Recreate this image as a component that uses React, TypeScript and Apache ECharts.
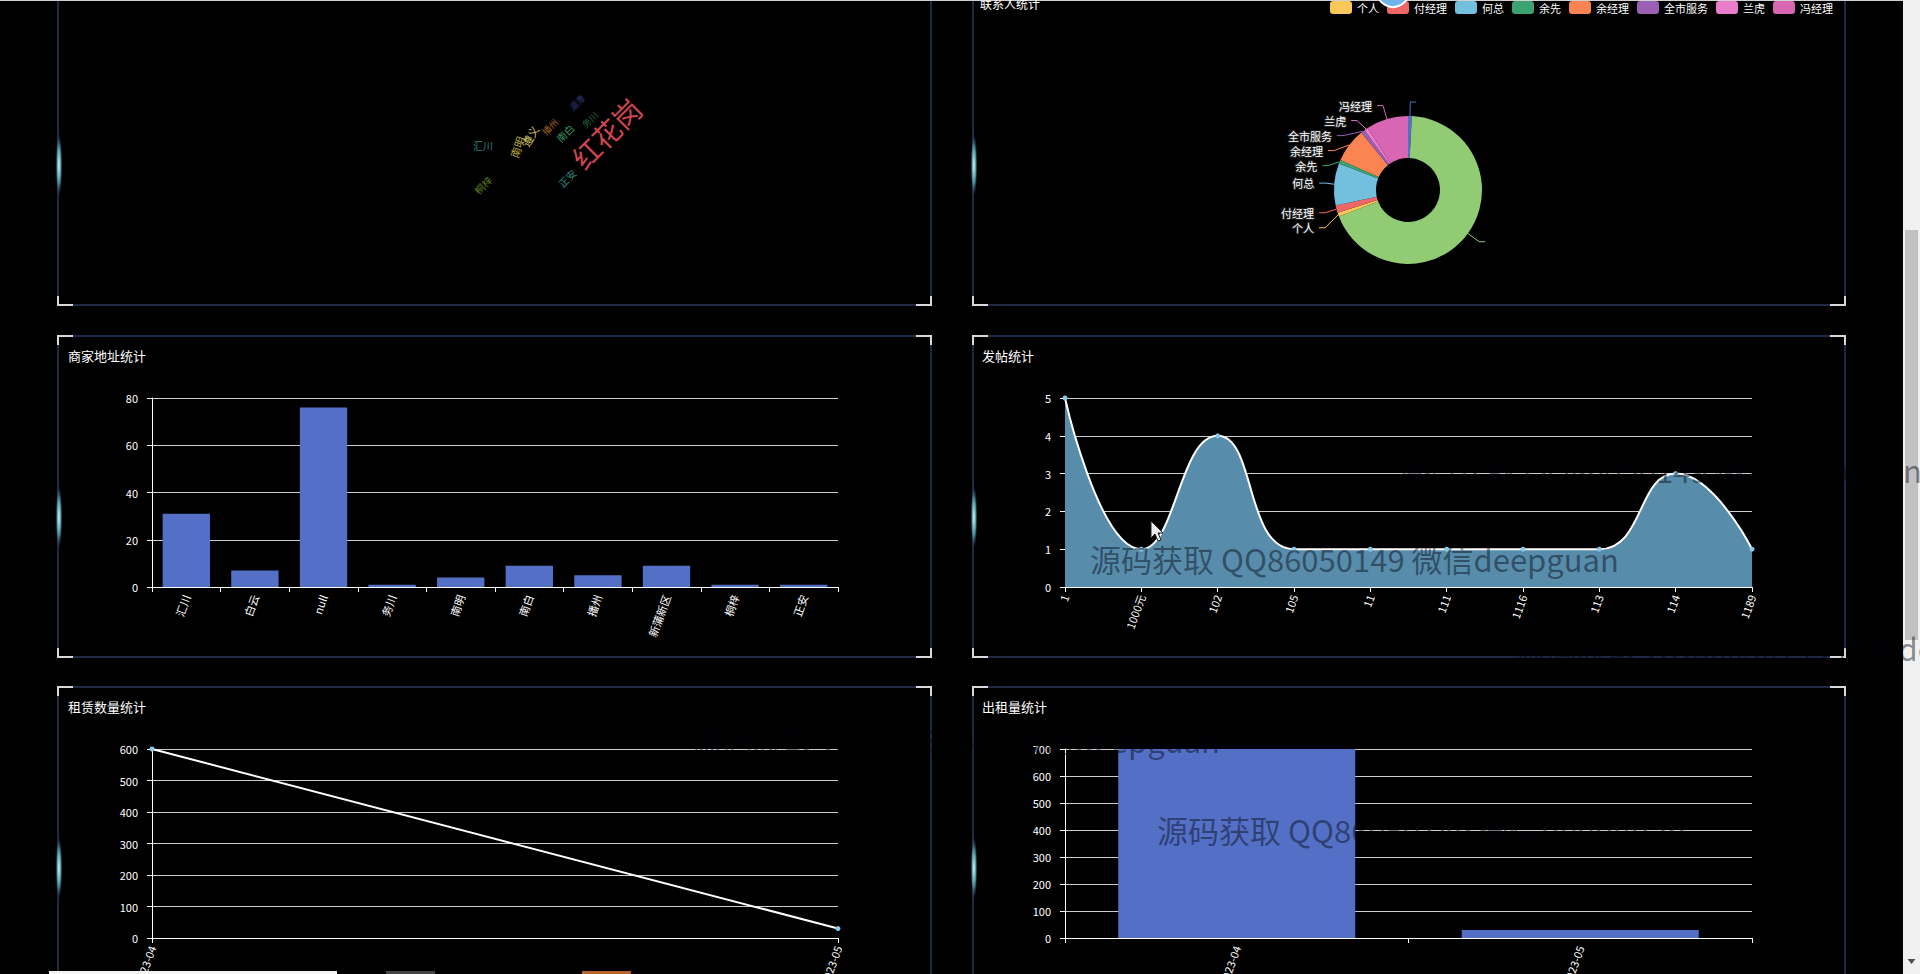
import React, { useEffect, useRef } from 'react';
import * as echarts from 'echarts';

// ---------- data ----------
const addrCategories = ['汇川', '白云', 'null', '务川', '南明', '南白', '播州', '新蒲新区', '桐梓', '正安'];
const addrValues = [31, 7, 76, 1, 4, 9, 5, 9, 1, 1];

const postCategories = ['1', '1000元', '102', '105', '11', '111', '1116', '113', '114', '1189'];
const postValues = [5, 1, 4, 1, 1, 1, 1, 1, 3, 1];

const monthCategories = ['2023-04', '2023-05'];
const rentCountValues = [600, 30];
const rentOutValues = [700, 30];

const contactNames = ['未填写', '其他', '个人', '付经理', '何总', '余先', '余经理', '全市服务', '兰虎', '冯经理'];
const contactValues = [1, 82, 1, 2, 11, 1, 9, 1, 1, 11];
const contactColors = ['#5470c6', '#91cc75', '#fac858', '#ee6666', '#73c0de', '#3ba272', '#fc8452', '#9a60b4', '#ea7ccc', '#d966b3'];
const legendNames = ['个人', '付经理', '何总', '余先', '余经理', '全市服务', '兰虎', '冯经理'];

const cloudWords = ['红花岗', '汇川', '南明', '遵义', '播州', '南白', '湄潭', '桐梓', '正安', '务川'];
const cloudSizes = [28, 10, 11, 11, 9, 10, 9, 10, 10, 9];
const cloudColors = ['#cf4650', '#2a8a78', '#b8a83a', '#d8c870', '#a0602a', '#3a9a68', '#33336e', '#5a7a20', '#2a8a80', '#2a6a48'];

const WATERMARK = '源码获取 QQ86050149 微信deepguan';

// layout of word cloud (positions only)
const cloudLayout = [
  [606, 133, 45], [483, 145, 0], [517, 147, 70], [530, 136, 60], [550, 127, 45],
  [565, 133, 45], [577, 103, 45], [483, 185, 45], [567, 178, 45], [590, 120, 45],
];

function panel(x: number, y: number, w: number, h: number) {
  const c = '#d8d8d8';
  const cl = 15, cv = 9;
  const els: any[] = [
    { type: 'rect', shape: { x, y, width: w, height: h }, style: { fill: 'transparent', stroke: '#1e2946', lineWidth: 2 }, z: 0 },
    { type: 'polyline', shape: { points: [[x, y + cv], [x, y], [x + cl, y]] }, style: { stroke: c, lineWidth: 2, fill: null }, z: 1 },
    { type: 'polyline', shape: { points: [[x + w - cl, y], [x + w, y], [x + w, y + cv]] }, style: { stroke: c, lineWidth: 2, fill: null }, z: 1 },
    { type: 'polyline', shape: { points: [[x, y + h - cv], [x, y + h], [x + cl, y + h]] }, style: { stroke: c, lineWidth: 2, fill: null }, z: 1 },
    { type: 'polyline', shape: { points: [[x + w - cl, y + h], [x + w, y + h], [x + w, y + h - cv]] }, style: { stroke: c, lineWidth: 2, fill: null }, z: 1 },
    {
      type: 'ellipse', shape: { cx: x + 1, cy: y + 181, rx: 3.5, ry: 32 }, z: 1,
      style: {
        fill: new echarts.graphic.RadialGradient(0.5, 0.5, 0.5, [
          { offset: 0, color: 'rgba(210,255,255,1)' },
          { offset: 0.55, color: 'rgba(110,200,215,0.7)' },
          { offset: 1, color: 'rgba(40,80,110,0)' },
        ]),
      },
    },
  ];
  return els;
}

const axisCommon = {
  axisLine: { show: true, lineStyle: { color: '#fff' } },
  axisTick: { show: true, lineStyle: { color: '#fff' } },
  axisLabel: { color: '#fff', fontSize: 11 },
};

export default function App() {
  const ref = useRef<HTMLDivElement>(null);
  useEffect(() => {
    const chart = echarts.init(ref.current!, null, { renderer: 'svg' });
    const font = '"Noto Sans CJK SC", "Microsoft YaHei", sans-serif';

    const graphics: any[] = [];
    const L = 58, R = 973, LW = 873, RW = 872, H = 321;
    [-16, 336, 687].forEach((y) => {
      graphics.push(...panel(L, y, LW, H));
      graphics.push(...panel(R, y, RW, H));
    });
    graphics.push({ type: 'line', shape: { x1: 0, y1: 0.5, x2: 1903, y2: 0.5 }, style: { stroke: '#d0d0d0', lineWidth: 1 }, z: 5 });
    graphics.push({ type: 'text', x: 980, y: 3, style: { text: '联系人统计', fill: '#fff', font: `12px ${font}`, textVerticalAlign: 'middle' }, z: 5 });

    cloudWords.forEach((w, i) => {
      const [cx, cy, rot] = cloudLayout[i];
      graphics.push({
        type: 'text', x: cx, y: cy, rotation: (rot * Math.PI) / 180, z: 5,
        style: { text: w, fill: cloudColors[i], font: `${cloudSizes[i]}px ${font}`, textAlign: 'center', textVerticalAlign: 'middle' },
      });
    });

    // scrollbar
    graphics.push({ type: 'rect', shape: { x: 1903, y: 0, width: 17, height: 974 }, style: { fill: '#f1f1f1' }, z: 90 });
    graphics.push({ type: 'rect', shape: { x: 1905, y: 230, width: 13, height: 410 }, style: { fill: '#c1c1c1' }, z: 91 });
    graphics.push({ type: 'polygon', shape: { points: [[1907.5, 959], [1915.5, 959], [1911.5, 964]] }, style: { fill: '#505050' }, z: 91 });

    // bottom strip
    graphics.push({ type: 'rect', shape: { x: 49, y: 971, width: 288, height: 3 }, style: { fill: '#f4f4f4' }, z: 95 });
    graphics.push({ type: 'rect', shape: { x: 386, y: 971, width: 49, height: 3 }, style: { fill: '#444' }, z: 95 });
    graphics.push({ type: 'rect', shape: { x: 582, y: 971, width: 49, height: 3 }, style: { fill: '#b8632c' }, z: 95 });

    // top floating circle
    graphics.push({ type: 'circle', shape: { cx: 1393, cy: -9, r: 16 }, style: { fill: '#6fb3ea', stroke: '#fff', lineWidth: 2 }, z: 96 });

    // watermarks
    const wm = (x: number, y: number, align: string) => ({
      type: 'text', x, y, z: 100,
      style: { text: WATERMARK, fill: 'rgba(0,4,12,0.45)', font: `31px ${font}`, textAlign: align, textVerticalAlign: 'middle' },
    });
    graphics.push(wm(1090, 558, 'left'));
    graphics.push(wm(1922, 469, 'right'));
    graphics.push(wm(1515, 647, 'left'));
    graphics.push(wm(1157, 829, 'left'));
    graphics.push(wm(1220, 739, 'right'));

    // cursor
    const cx0 = 1151, cy0 = 521;
    graphics.push({
      type: 'polygon', z: 110,
      shape: { points: [[0, 0], [0, 17], [4, 13], [7, 20], [10, 19], [7, 12], [12, 12]].map(([a, b]) => [cx0 + a, cy0 + b]) },
      style: { fill: '#f0f0f0', stroke: '#222', lineWidth: 1 },
    });

    const titleStyle = { color: '#fff', fontSize: 13, fontWeight: 'normal' as const, fontFamily: font };
    const gridBase = { outerBoundsMode: 'none', containLabel: false };
    const yLabel = { ...axisCommon.axisLabel, margin: 14 };
    const xLabel = { ...axisCommon.axisLabel, rotate: 70, interval: 0 };
    const split = { lineStyle: { color: '#ccc' } };

    const option: any = {
      animation: false,
      backgroundColor: '#000',
      textStyle: { fontFamily: font },
      title: [
        { text: '商家地址统计', left: 63, top: 344, textStyle: titleStyle },
        { text: '发帖统计', left: 977, top: 344, textStyle: titleStyle },
        { text: '租赁数量统计', left: 63, top: 695, textStyle: titleStyle },
        { text: '出租量统计', left: 977, top: 695, textStyle: titleStyle },
      ],
      legend: {
        data: legendNames, left: 1330, top: 1, padding: 0, itemWidth: 22, itemHeight: 13, itemGap: 8,
        textStyle: { color: '#fff', fontSize: 11 },
      },
      grid: [
        { ...gridBase, left: 152, top: 398, width: 686, height: 189 },
        { ...gridBase, left: 1065, top: 398, width: 687, height: 189 },
        { ...gridBase, left: 152, top: 749, width: 686, height: 189 },
        { ...gridBase, left: 1065, top: 749, width: 687, height: 189 },
      ],
      xAxis: [
        { type: 'category', gridIndex: 0, data: addrCategories, ...axisCommon, axisLabel: xLabel },
        { type: 'category', gridIndex: 1, data: postCategories, boundaryGap: false, ...axisCommon, axisLabel: xLabel },
        { type: 'category', gridIndex: 2, data: monthCategories, boundaryGap: false, ...axisCommon, axisLabel: xLabel },
        { type: 'category', gridIndex: 3, data: monthCategories, ...axisCommon, axisLabel: xLabel },
      ],
      yAxis: [
        { type: 'value', gridIndex: 0, min: 0, max: 80, interval: 20, ...axisCommon, axisLabel: yLabel, splitLine: split },
        { type: 'value', gridIndex: 1, min: 0, max: 5, interval: 1, ...axisCommon, axisLabel: yLabel, splitLine: split },
        { type: 'value', gridIndex: 2, min: 0, max: 600, interval: 100, ...axisCommon, axisLabel: yLabel, splitLine: split },
        { type: 'value', gridIndex: 3, min: 0, max: 700, interval: 100, ...axisCommon, axisLabel: yLabel, splitLine: split },
      ],
      series: [
        { type: 'bar', xAxisIndex: 0, yAxisIndex: 0, data: addrValues, barWidth: '69%', itemStyle: { color: '#5470c6' } },
        {
          type: 'line', xAxisIndex: 1, yAxisIndex: 1, data: postValues, smooth: true, symbol: 'circle', symbolSize: 5,
          itemStyle: { color: '#8cc8ec' }, lineStyle: { color: '#fff', width: 2 }, areaStyle: { color: '#588cab', opacity: 1 },
        },
        {
          type: 'line', xAxisIndex: 2, yAxisIndex: 2, data: rentCountValues, symbol: 'circle', symbolSize: 5,
          itemStyle: { color: '#8cc8ec' }, lineStyle: { color: '#fff', width: 2 },
        },
        { type: 'bar', xAxisIndex: 3, yAxisIndex: 3, data: rentOutValues, barWidth: '69%', itemStyle: { color: '#5470c6' } },
        {
          type: 'pie', center: [1408, 190], radius: [32, 74],
          label: { color: '#fff', fontSize: 11, lineHeight: 12, textBorderColor: '#222', textBorderWidth: 2 },
          labelLine: { length: 14, length2: 6 },
          data: contactNames.map((n, i) => ({
            name: n, value: contactValues[i], itemStyle: { color: contactColors[i] },
            ...(i < 2 ? { label: { formatter: ' ' } } : {}),
          })),
        },
      ],
      graphic: graphics,
    };
    chart.setOption(option);
    return () => chart.dispose();
  }, []);
  return <div ref={ref} style={{ position: 'fixed', left: 0, top: 0, width: 1920, height: 974, background: '#000' }} />;
}
